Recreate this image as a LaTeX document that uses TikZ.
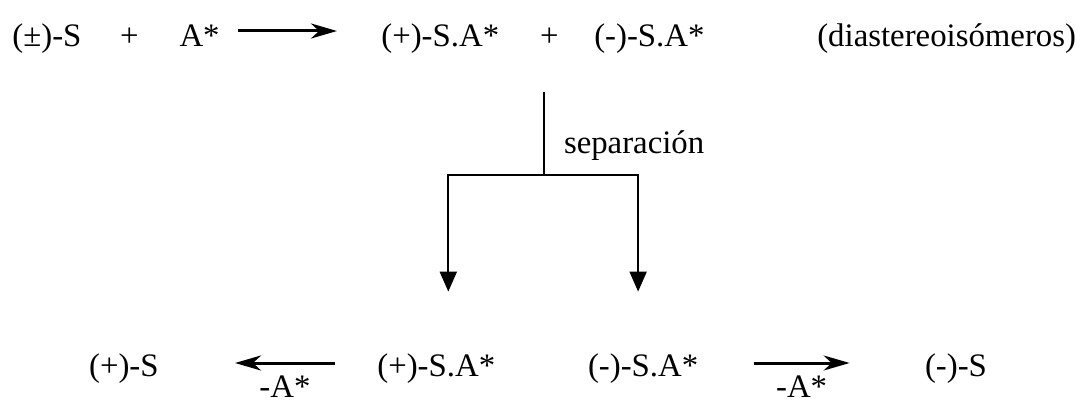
\documentclass[tikz,border=0pt]{standalone}
\usepackage{fontspec}
\setmainfont{Liberation Serif}
\usepackage{tikz}
\usetikzlibrary{arrows.meta, positioning, calc}

\begin{document}
\begin{tikzpicture}[
    especie/.style={inner sep=0pt, font=\fontsize{16.4}{19}\selectfont,
      text height=11.5pt, text depth=4pt},
    flecha/.style={-{Stealth[length=13pt, width=7.5pt, inset=4pt]}, line width=1.5pt},
    rama/.style={line width=1pt},
    bajada/.style={-{Triangle[length=10pt, width=8.5pt]}, line width=1pt}
  ]
    \useasboundingbox (0,0) rectangle (540pt,-200.5pt);

    % reaccion con el auxiliar quiral
    \node[especie, anchor=west] (rac) at (6pt,-19.75pt) {(±)-S};
    \node[especie, right=19pt of rac] (mas1) {+};
    \node[especie, right=20pt of mas1] (aux) {A*};
    \node[especie, right=80.5pt of aux] (dpos) {(+)-S.A*};
    \node[especie, right=20pt of dpos] (mas2) {+};
    \node[especie, right=17.5pt of mas2] (dneg) {(-)-S.A*};
    \node[especie, right=56pt of dneg] (diast) {(diastereoisómeros)};

    % fila de abajo
    \node[especie, anchor=west] (pos2) at (188.5pt,-184.25pt) {(+)-S.A*};
    \node[especie, right=46pt of pos2] (neg2) {(-)-S.A*};
    \node[especie, left=109pt of pos2] (enpos) {(+)-S};
    \node[especie, right=113pt of neg2] (enneg) {(-)-S};

    \coordinate (sep) at (272pt,-46pt);
    \coordinate (cruce) at (272pt,-87.5pt);

    \draw[flecha] ([xshift=9pt, yshift=4.25pt]aux.east) -- ([xshift=-22pt, yshift=4.25pt]dpos.west);
    \draw[rama] (sep) -- node[especie, pos=0.65, right=9.5pt] (septxt) {separación} (cruce);
    \draw[bajada] (cruce) -| ([xshift=6pt, yshift=30.5pt]pos2.north);
    \draw[bajada] (cruce) -| ([xshift=-2.5pt, yshift=30.5pt]neg2.north);
    \draw[flecha] ([xshift=-21pt, yshift=2.75pt]pos2.west) -- ([xshift=38pt, yshift=2.75pt]enpos.east)
      node[especie, text depth=0pt, midway, below=5pt] (menos1) {-A*};
    \draw[flecha] ([xshift=27.5pt, yshift=2.75pt]neg2.east) -- ([xshift=-37.5pt, yshift=2.75pt]enneg.west)
      node[especie, text depth=0pt, midway, below=5pt] (menos2) {-A*};
  \end{tikzpicture}
\end{document}
